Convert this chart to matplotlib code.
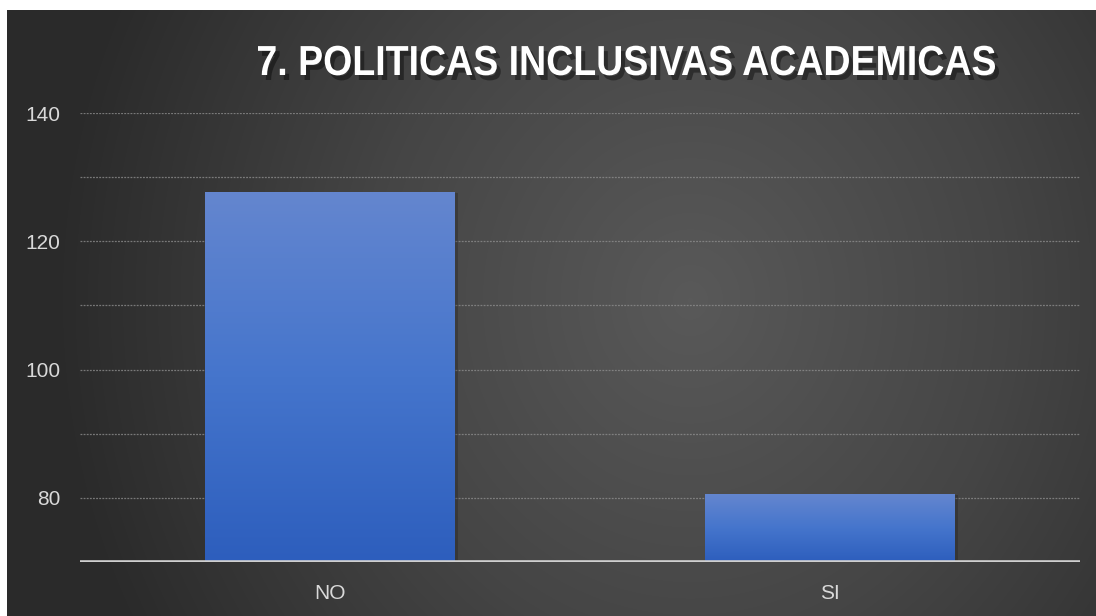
import numpy as np
import matplotlib
matplotlib.use('Agg')
import matplotlib.pyplot as plt
from matplotlib.textpath import TextPath
from matplotlib.font_manager import FontProperties
from matplotlib.patches import PathPatch
from matplotlib.transforms import Affine2D
from matplotlib.colors import LinearSegmentedColormap

# datos del gráfico
categorias = ['NO', 'SI']
valores = [127.6, 80.5]
y_ticks = [80, 100, 120, 140]
y_grid = [80, 90, 100, 110, 120, 130, 140]
titulo = '7. POLITICAS INCLUSIVAS ACADEMICAS'

W, H = 1096, 616
fig = plt.figure(figsize=(W / 100, H / 100), dpi=100)
fig.patch.set_facecolor('white')

# fondo con degradado (más claro al centro)
bg = fig.add_axes([0, 0, 1, 1])
bg.set_axis_off()
yy, xx = np.mgrid[0:H, 0:W]
d = np.sqrt(((xx - 690) / 640.0) ** 2 + ((yy - 300) / 700.0) ** 2)
d = np.clip(d, 0, 1)
cmap_bg = LinearSegmentedColormap.from_list('bg', ['#595959', '#454545', '#2a2a2a'])
bg.imshow(d, cmap=cmap_bg, aspect='auto', extent=[0, W, 0, H], origin='upper', vmin=0, vmax=1)
# borde blanco arriba e izquierda
bg.add_patch(plt.Rectangle((0, 0), 7, H, color='white', lw=0))
bg.add_patch(plt.Rectangle((0, H - 10), W, 10, color='white', lw=0))
bg.set_xlim(0, W)
bg.set_ylim(0, H)

# título: texto condensado, ajustado a su caja
fp = FontProperties(family='Liberation Sans', weight='bold')
tp = TextPath((0, 0), titulo, size=42, prop=fp)
ext = tp.get_extents()
sx = 737 / ext.width
tx, ty = 258, H - 75
sombra = Affine2D().translate(-ext.x0, 0).scale(sx, 1).translate(tx + 4, ty - 5)
bg.add_patch(PathPatch(sombra.transform_path(tp), color='black', alpha=0.4, lw=0))
principal = Affine2D().translate(-ext.x0, 0).scale(sx, 1).translate(tx, ty)
bg.add_patch(PathPatch(principal.transform_path(tp), color='white', lw=0))

# ejes del gráfico
ax = fig.add_axes([80 / W, 1 - 562 / H, 1000 / W, (562 - 113) / H])
ax.patch.set_alpha(0)

for g in y_grid:
    ax.axhline(g, color='#8c8c8c', lw=0.9, ls=(0, (1.5, 1)), alpha=0.8, zorder=1)
ax.axhline(70, color='#cfcfcf', lw=2.6, zorder=4)

# barras con degradado vertical y sombra
cmap_bar = LinearSegmentedColormap.from_list('bar', ['#2d5ebd', '#4575cc', '#6486cf'])
grad = np.linspace(0, 1, 256).reshape(-1, 1)
ancho = 0.5
for i, v in enumerate(valores):
    ax.bar(i + 0.006, v - 70, ancho, bottom=70, color='black', alpha=0.18, zorder=2)
    x0, x1 = i - ancho / 2, i + ancho / 2
    ax.imshow(grad, cmap=cmap_bar, aspect='auto', extent=[x0, x1, 70, v],
              origin='lower', zorder=3)
ax.set_xlim(-0.5, 1.5)
ax.set_ylim(70, 140)

ax.set_xticks(range(len(categorias)))
ax.set_xticklabels(categorias)
ax.set_yticks(y_ticks)
for lab in ax.get_xticklabels() + ax.get_yticklabels():
    lab.set_family('Liberation Sans')
ax.tick_params(axis='both', length=0, colors='#d9d9d9', labelsize=15)
ax.tick_params(axis='x', pad=16)
ax.tick_params(axis='y', pad=14)
for s in ax.spines.values():
    s.set_visible(False)

fig.savefig('out.png', dpi=100, facecolor=fig.get_facecolor())
